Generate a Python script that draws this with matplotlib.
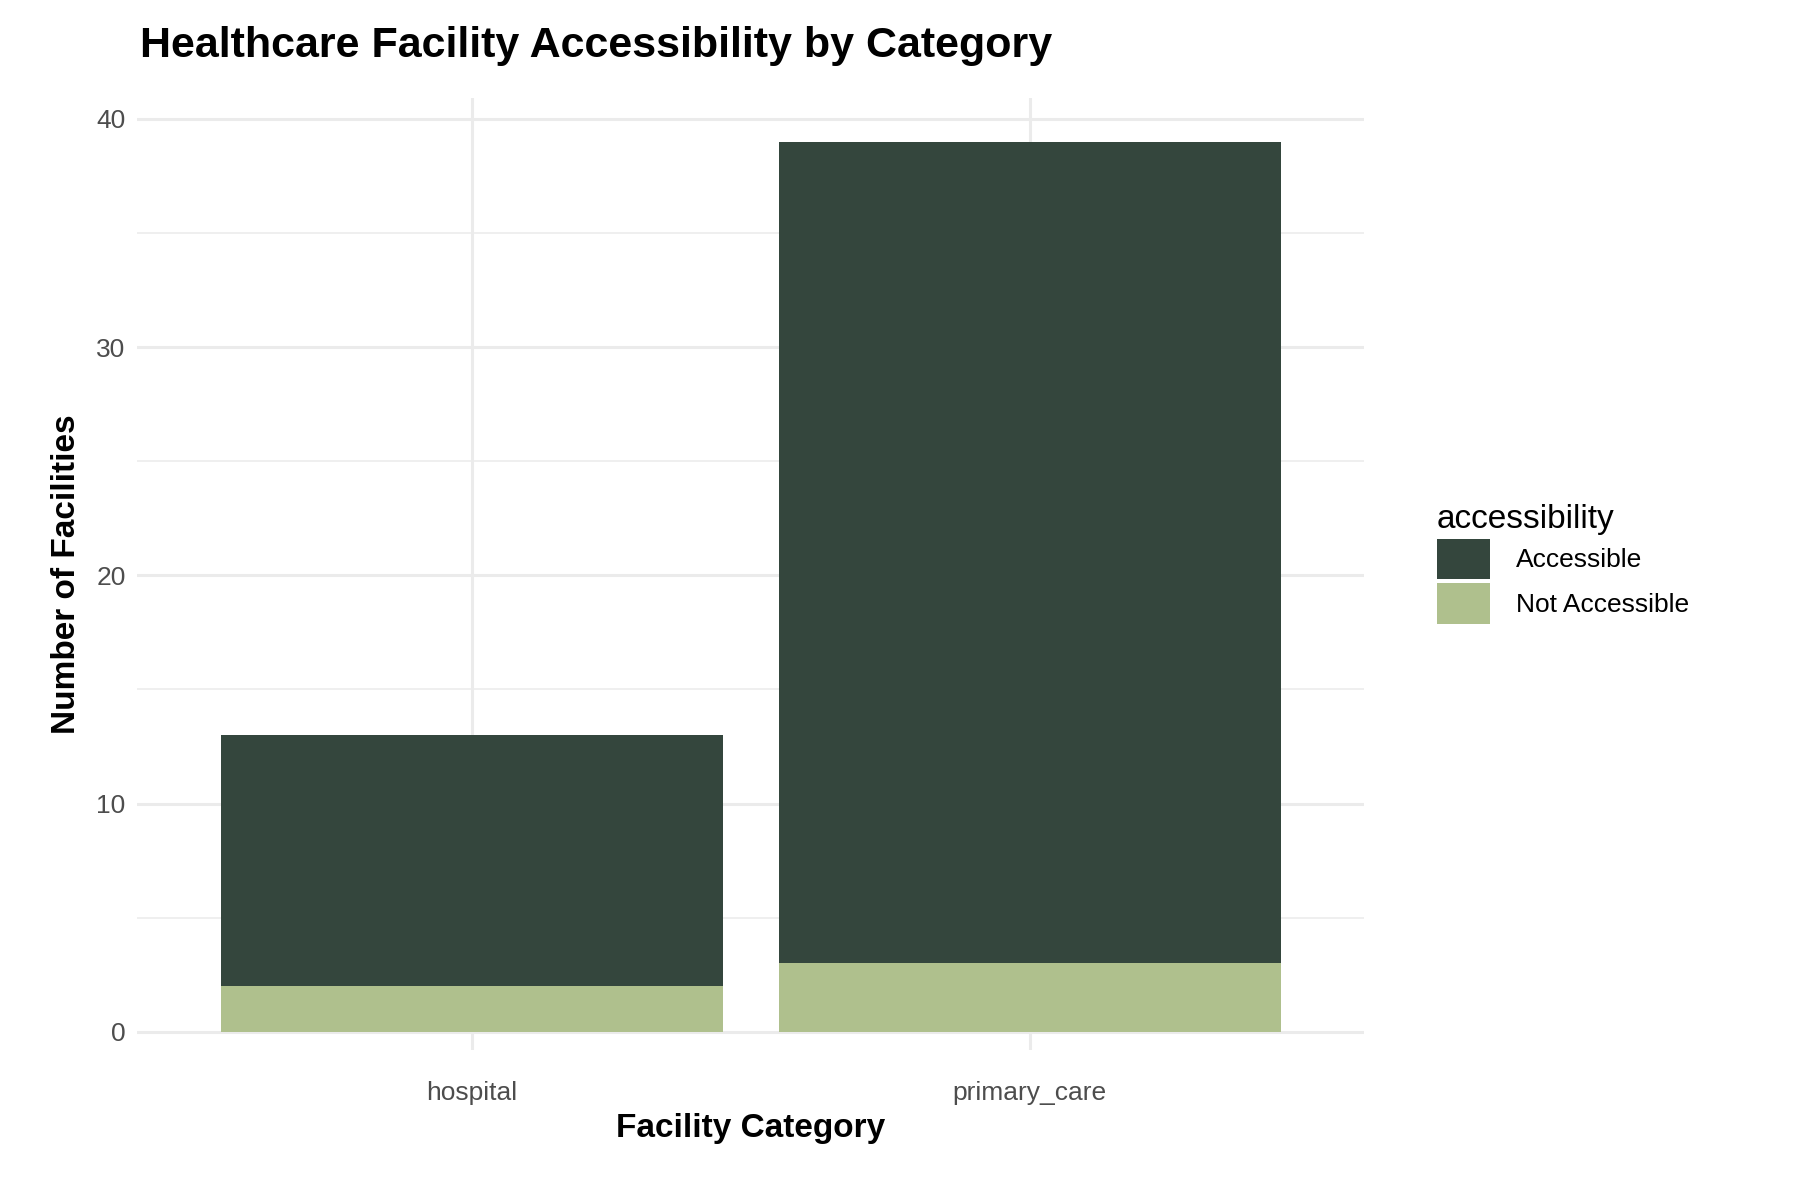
import numpy as np
import matplotlib
matplotlib.use('Agg')
from matplotlib import pyplot as plt

# data
categories = ['hospital', 'primary_care']
not_accessible = [2, 3]
accessible = [11, 36]
y_ticks = [0, 10, 20, 30, 40]

plt.rcParams['font.family'] = ['Liberation Sans', 'DejaVu Sans']

fig = plt.figure(figsize=(18, 12), dpi=100)
ax = fig.add_axes([0.076, 0.125, 0.682, 0.793])

x = np.arange(1, len(categories) + 1)
ax.bar(x, not_accessible, width=0.9, color='#AFC08D', label='Not Accessible', zorder=2)
ax.bar(x, accessible, width=0.9, bottom=not_accessible, color='#34463D', label='Accessible', zorder=2)

ax.set_xlim(0.4, 2.6)
ax.set_ylim(-0.8, 40.9)
ax.set_xticks(x)
ax.set_xticklabels(categories)
ax.set_yticks(y_ticks)
ax.set_yticks([5, 15, 25, 35], minor=True)
ax.grid(True, which='major', color='#EBEBEB', linewidth=2.2, zorder=0)
ax.grid(True, which='minor', axis='y', color='#EBEBEB', linewidth=1.1, zorder=0)
for s in ax.spines.values():
    s.set_visible(False)
ax.tick_params(which='both', length=0, labelsize=19, labelcolor='#4D4D4D', pad=8)
ax.tick_params(axis='x', pad=22)

ax.set_xlabel('Facility Category', fontsize=24, fontweight='bold', labelpad=6)
ax.set_ylabel('Number of Facilities', fontsize=24, fontweight='bold', labelpad=10)
fig.text(0.078, 0.962, 'Healthcare Facility Accessibility by Category',
         fontsize=31, fontweight='bold', va='center', ha='left')

handles, labels = ax.get_legend_handles_labels()
leg = fig.legend(handles[::-1], labels[::-1], title='accessibility',
                 loc='center left', bbox_to_anchor=(0.785, 0.53), frameon=False,
                 fontsize=19, title_fontsize=24, handlelength=2.0, handleheight=2.0,
                 handletextpad=1.0, labelspacing=0.15)
leg._legend_box.align = 'left'

fig.savefig('out.png', dpi=100)
